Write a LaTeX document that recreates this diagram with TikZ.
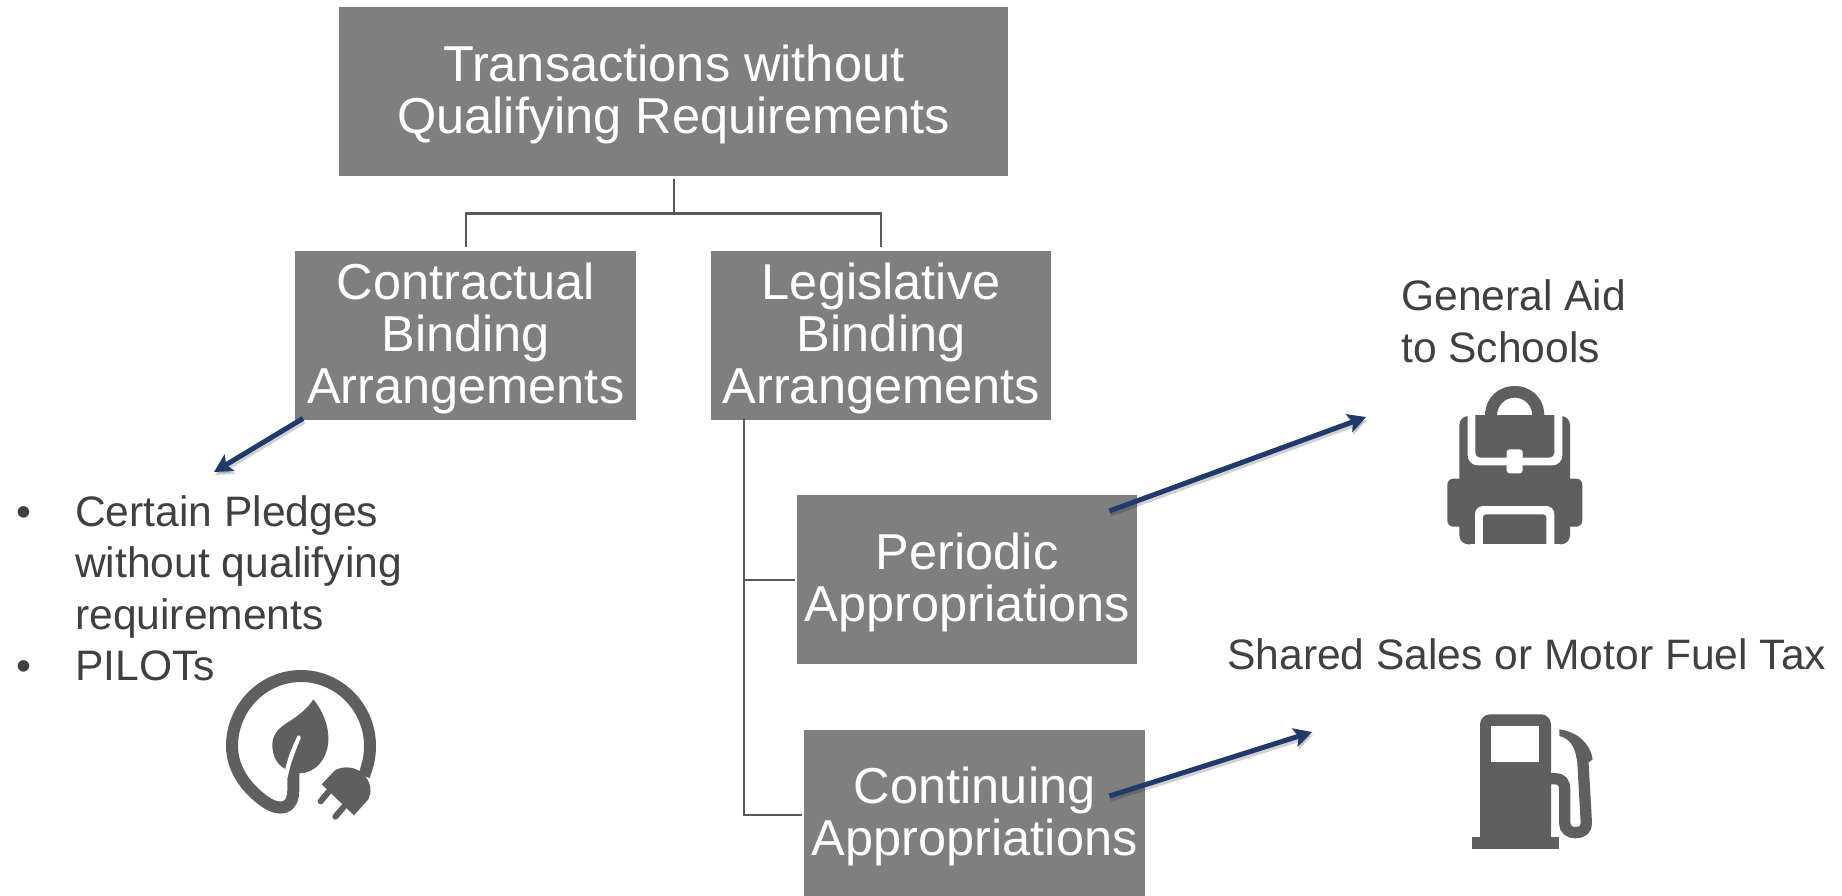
\documentclass[tikz,border=0pt]{standalone}
\usepackage{fontspec}
\setmainfont{Liberation Sans}
\usetikzlibrary{calc,arrows.meta}
\definecolor{boxgray}{HTML}{7F7F7F}
\definecolor{linegray}{HTML}{595959}
\definecolor{txtgray}{HTML}{404040}
\definecolor{icongray}{HTML}{5F5F5F}
\definecolor{arrowblue}{HTML}{203A6B}
\newcommand{\bigfont}{\fontsize{50.5}{52}\selectfont}
\tikzset{
  x=1pt,y=-1pt,
  boxnode/.style={fill=boxgray,text=white,inner sep=0pt,align=center,font=\bigfont},
  labeltext/.style={text=txtgray,inner sep=0pt,align=left,font=\fontsize{42.6}{52}\selectfont},
  conn/.style={draw=linegray,line width=2.4pt},
  blue arrow/.style={draw=arrowblue,line width=5pt,-{Stealth[length=18pt,width=19pt,inset=4pt]}},
  arrow shadow/.style={draw=black,opacity=.18,line width=5pt,-{Stealth[length=18pt,width=19pt,inset=4pt]},transform canvas={shift={(1pt,-3pt)}}},
  icon/.style={fill=icongray,draw=none},
  hole/.style={fill=white,draw=none},
}
\begin{document}
\begin{tikzpicture}
\useasboundingbox (0,0) rectangle (1842,895);
\fill[white] (0,0) rectangle (1842,895);
% boxes
\node[boxnode,minimum width=669pt,minimum height=169pt,anchor=north west] (top) at (339,7) {};
\node[boxnode,minimum width=341pt,minimum height=169pt,anchor=north west] (contr) at (295,251) {};
\node[boxnode,minimum width=340pt,minimum height=169pt,anchor=north west] (legis) at (711,251) {};
\node[boxnode,minimum width=340pt,minimum height=169pt,anchor=north west] (peri) at (797,495) {};
\node[boxnode,minimum width=341pt,minimum height=169pt,anchor=north west] (cont) at (804,730) {};
\node[boxnode,fill=none,yshift=-3pt] (topt) at (top.center) {Transactions without\\Qualifying Requirements};
\node[boxnode,fill=none,yshift=-3pt] (contrt) at (contr.center) {Contractual\\Binding\\Arrangements};
\node[boxnode,fill=none,yshift=-3pt] (legist) at (legis.center) {Legislative\\Binding\\Arrangements};
\node[boxnode,fill=none,yshift=-3pt] (perit) at (peri.center) {Periodic\\Appropriations};
\node[boxnode,fill=none,yshift=-2pt] (contt) at (cont.center) {Continuing\\Appropriations};
% tree connectors
\coordinate (j) at ($(top.south)+(0,37)$);
\draw[conn] ([yshift=-3pt]top.south) -- (j);
\coordinate (cn) at ([yshift=4pt]contr.north);
\coordinate (ln) at ([yshift=4pt]legis.north);
\draw[conn] (cn) -- (cn |- j) -- (ln |- j) -- (ln);
\coordinate (t) at ($(legis.south west)+(33,-2)$);
\coordinate (b1) at (t |- peri.west);
\coordinate (b2) at (t |- cont.west);
\draw[conn] (t) -- (b2) -- ([xshift=-2pt]b2 -| cont.west);
\draw[conn] (b1) -- ([xshift=-2pt]peri.west);
% labels
\node[labeltext,anchor=base west] (g1) at (1401,310) {General Aid};
\node[labeltext,anchor=base west] (g2) at (1401,362) {to Schools};
\node[labeltext,anchor=base west] (shared) at (1227,669) {Shared Sales or Motor Fuel Tax};
\node[labeltext,anchor=base west] (l1) at (75,526) {Certain Pledges};
\node[labeltext,anchor=base west] (l2) at (75,577) {without qualifying};
\node[labeltext,anchor=base west] (l3) at (75,629) {requirements};
\node[labeltext,anchor=base west] (l4) at (75,680) {PILOTs};
\node[labeltext,anchor=base west] (b1t) at (16,526) {•};
\node[labeltext,anchor=base west] (b2t) at (16,680) {•};
% blue arrows
\coordinate (e1) at (214,472);
\coordinate (e2) at (1366,417);
\coordinate (e3) at (1312,732);
\coordinate (s1) at ($(contr.south west)+(8,-2)$);
\coordinate (s2) at ($(peri.north east)+(-28,16)$);
\coordinate (s3) at ($(cont.north east)+(-36,66)$);
\draw[arrow shadow] (s1) -- (e1);
\draw[arrow shadow] (s2) -- (e2);
\draw[arrow shadow] (s3) -- (e3);
\draw[blue arrow] (s1) -- (e1);
\draw[blue arrow] (s2) -- (e2);
\draw[blue arrow] (s3) -- (e3);
% backpack
\begin{scope}[shift={(1420,371)},scale=1/3]
\fill[icon,rounded corners=9pt] (118,135) rectangle (450,520);
\fill[icon,rounded corners=6pt] (82,323) rectangle (487,467);
\fill[hole,rounded corners=10pt] (143,100) rectangle (427,283);
\fill[hole] (118,100) rectangle (450,133);
\fill[icon,rounded corners=5pt] (166,100) rectangle (403,260);
\fill[hole] (160,100) rectangle (410,133);
\fill[icon] (195,135) .. controls (195,80) and (235,45) .. (284,45) .. controls (333,45) and (373,80) .. (373,135) -- (337,135) .. controls (337,103) and (313,80) .. (284,80) .. controls (255,80) and (231,103) .. (231,135) -- cycle;
\fill[hole,rounded corners=3pt] (260,235) rectangle (308,307);
\fill[hole,rounded corners=8pt] (165,405) rectangle (403,560);
\fill[icon,rounded corners=3pt] (189,430) rectangle (379,560);
\fill[hole] (150,520) rectangle (420,560);
\end{scope}
% plug and leaf
\begin{scope}[shift={(210,661)},scale=1/3]
\draw[icongray,line width=12pt] (462,345) .. controls (475,310) and (480,285) .. (480,255) .. controls (480,140) and (387,45) .. (273,45) .. controls (159,45) and (66,140) .. (66,255) .. controls (66,320) and (105,380) .. (165,422) .. controls (205,450) and (250,450) .. (250,385) -- (250,335);
\fill[icon] (310,115) .. controls (335,145) and (357,190) .. (355,240) .. controls (352,295) and (315,337) .. (268,337) -- (232,340) -- (225,323) .. controls (200,310) and (187,285) .. (187,250) .. controls (187,215) and (215,195) .. (240,180) .. controls (270,160) and (295,140) .. (310,115) -- cycle;
\fill[hole] (263,224) .. controls (268,220) and (274,224) .. (272,232) .. controls (258,265) and (240,310) .. (233,350) -- (226,350) -- (226,323) .. controls (232,295) and (245,260) .. (263,224) -- cycle;
\fill[icon] (335,370) -- (375,328) .. controls (395,315) and (440,313) .. (465,345) .. controls (485,370) and (485,395) .. (475,415) -- (432,463) -- cycle;
\draw[icongray,line width=6pt,line cap=round] (355,393) -- (332,421);
\draw[icongray,line width=6pt,line cap=round] (402,437) -- (376,467);
\end{scope}
% fuel pump
\begin{scope}[shift={(1450,701)},scale=1/3]
\fill[icon,rounded corners=10pt] (90,40) -- (303,40) -- (303,420) -- (90,420) -- cycle;
\fill[icon] (90,300) rectangle (303,420);
\fill[icon] (66,408) rectangle (327,444);
\fill[hole] (124,75) rectangle (268,183);
\draw[icongray,line width=11.3pt] (300,233) -- (315,233) .. controls (335,233) and (344,245) .. (344,265) -- (344,365) .. controls (344,385) and (358,395) .. (376,395) .. controls (396,395) and (410,385) .. (409,365) -- (398,170);
\fill[icon] (328,85) .. controls (380,92) and (420,125) .. (428,175) -- (415,185) -- (380,175) .. controls (376,140) and (360,112) .. (328,105) -- cycle;
\end{scope}
\end{tikzpicture}
\end{document}
